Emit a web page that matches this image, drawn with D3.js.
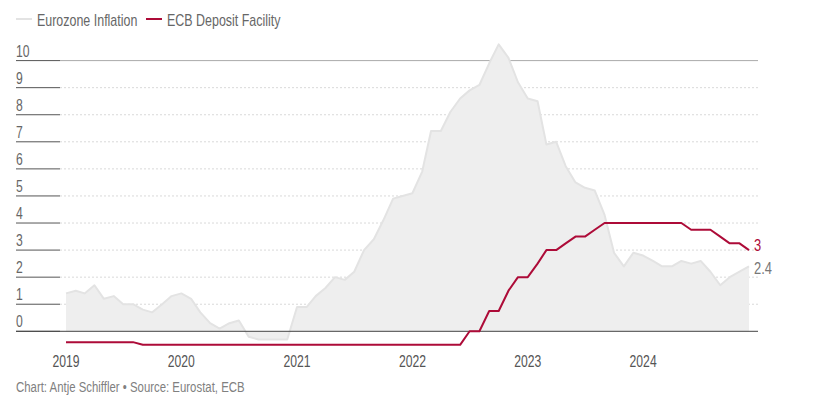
<!DOCTYPE html>
<html>
<head>
<meta charset="utf-8">
<script src="https://cdn.jsdelivr.net/npm/d3@7"></script>
<style>
  body { margin: 0; background: #fff; }
  svg text { font-family: "Liberation Sans", Arial, sans-serif; }
</style>
</head>
<body>
<svg id="chart" width="821" height="399"></svg>
<script>
// monthly, Jan 2019 .. Dec 2024
var firstMonth = '2019-01';
var inflation = [
	1.4, 1.5, 1.4, 1.7, 1.2, 1.3, 1.0, 1.0, 0.8, 0.7, 1.0, 1.3,
	1.4, 1.2, 0.7, 0.3, 0.1, 0.3, 0.4, -0.2, -0.3, -0.3, -0.3, -0.3,
	0.9, 0.9, 1.3, 1.6, 2.0, 1.9, 2.2, 3.0, 3.4, 4.1, 4.9, 5.0,
	5.1, 5.9, 7.4, 7.4, 8.1, 8.6, 8.9, 9.1, 9.9, 10.6, 10.1, 9.2,
	8.6, 8.5, 6.9, 7.0, 6.1, 5.5, 5.3, 5.2, 4.3, 2.9, 2.4, 2.9,
	2.8, 2.6, 2.4, 2.4, 2.6, 2.5, 2.6, 2.2, 1.7, 2.0, 2.2, 2.4
];
var depositRate = [
	-0.4, -0.4, -0.4, -0.4, -0.4, -0.4, -0.4, -0.4, -0.5, -0.5, -0.5, -0.5,
	-0.5, -0.5, -0.5, -0.5, -0.5, -0.5, -0.5, -0.5, -0.5, -0.5, -0.5, -0.5,
	-0.5, -0.5, -0.5, -0.5, -0.5, -0.5, -0.5, -0.5, -0.5, -0.5, -0.5, -0.5,
	-0.5, -0.5, -0.5, -0.5, -0.5, -0.5, 0, 0, 0.75, 0.75, 1.5, 2.0,
	2.0, 2.5, 3.0, 3.0, 3.25, 3.5, 3.5, 3.75, 4.0, 4.0, 4.0, 4.0,
	4.0, 4.0, 4.0, 4.0, 4.0, 3.75, 3.75, 3.75, 3.5, 3.25, 3.25, 3.0
];
var yTicks = [0, 1, 2, 3, 4, 5, 6, 7, 8, 9, 10];
var xTicks = [2019, 2020, 2021, 2022, 2023, 2024];
var legendLabels = ['Eurozone Inflation', 'ECB Deposit Facility'];
var footer = 'Chart: Antje Schiffler \u2022 Source: Eurostat, ECB';

var inflColor = '#e3e3e3';
var rateColor = '#ad0b38';
var narrow = 0.76; // fake a condensed face

var svg = d3.select('#chart');
var parseMonth = d3.timeParse('%Y-%m');
var months = d3.timeMonth.range(parseMonth(firstMonth), d3.timeMonth.offset(parseMonth(firstMonth), inflation.length));

var x = d3.scaleTime()
	.domain([months[0], months[months.length - 1]])
	.range([66, 749]);
var y = d3.scaleLinear()
	.domain([0, 10])
	.range([331.3, 60.6]);

var addText = function (parent, tx, ty, str, size, color, anchor) {
	return parent.append('text')
		.attr('transform', 'translate(' + tx + ',' + ty + ') scale(' + narrow + ',1)')
		.attr('font-size', size)
		.attr('fill', color)
		.attr('text-anchor', anchor || 'start')
		.text(str);
};

// grid
var grid = svg.append('g');
grid.selectAll('line.grid')
		.data(yTicks.filter(function (d) { return d > 0; }))
	.enter()
		.append('line')
		.attr('x1', 60).attr('x2', 758)
		.attr('y1', function (d) { return y(d); })
		.attr('y2', function (d) { return y(d); })
		.attr('stroke', function (d) { return d === 10 ? '#aaa' : '#d9d9d9'; })
		.attr('stroke-width', 1)
		.attr('stroke-dasharray', function (d) { return d === 10 ? null : '2,2'; });
grid.selectAll('line.tick')
		.data(yTicks)
	.enter()
		.append('line')
		.attr('x1', 16).attr('x2', 60)
		.attr('y1', function (d) { return y(d); })
		.attr('y2', function (d) { return y(d); })
		.attr('stroke', '#555');
yTicks.forEach(function (d) {
	addText(grid, 16, y(d) - 4, d, 16, '#666');
});

// inflation area
var area = d3.area()
	.x(function (d, i) { return x(months[i]); })
	.y0(y(0))
	.y1(function (d) { return y(d); });
var line = d3.line()
	.x(function (d, i) { return x(months[i]); })
	.y(function (d) { return y(d); });

svg.append('path')
	.datum(inflation)
	.attr('d', area)
	.attr('fill', '#eeeeee');
svg.append('path')
	.datum(inflation)
	.attr('d', line)
	.attr('fill', 'none')
	.attr('stroke', inflColor)
	.attr('stroke-width', 2)
	.attr('stroke-linejoin', 'round');

// baseline
svg.append('line')
	.attr('x1', 16).attr('x2', 758)
	.attr('y1', y(0)).attr('y2', y(0))
	.attr('stroke', '#444');

svg.append('path')
	.datum(depositRate)
	.attr('d', line)
	.attr('fill', 'none')
	.attr('stroke', rateColor)
	.attr('stroke-width', 2)
	.attr('stroke-linejoin', 'round');

// end labels
var last = months.length - 1;
addText(svg, x(months[last]) + 5, y(depositRate[last]) + 1, depositRate[last], 17, rateColor);
addText(svg, x(months[last]) + 5, y(inflation[last]) + 8, inflation[last], 17, '#777');

// x axis
xTicks.forEach(function (d) {
	addText(svg, x(new Date(d, 0, 1)), 366.5, d, 16, '#555', 'middle');
});

// legend
var legend = svg.append('g');
var legendX = [16, 146];
var legendColors = [inflColor, rateColor];
legendLabels.forEach(function (lbl, i) {
	legend.append('line')
		.attr('x1', legendX[i]).attr('x2', legendX[i] + 16)
		.attr('y1', 19).attr('y2', 19)
		.attr('stroke', legendColors[i])
		.attr('stroke-width', 2);
	addText(legend, legendX[i] + 21, 25.5, lbl, 16.4, '#666');
});

addText(svg, 16, 392, footer, 15, '#808080');
</script>
</body>
</html>
